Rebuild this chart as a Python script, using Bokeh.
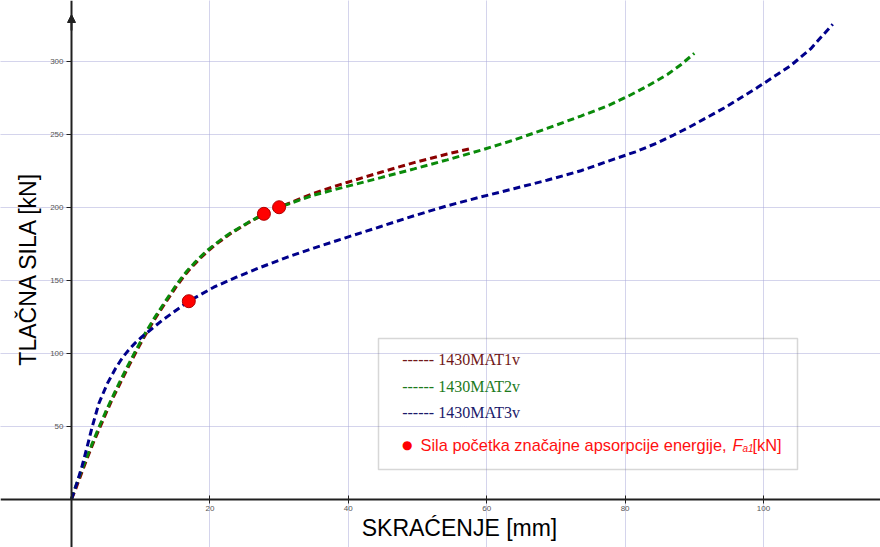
from math import pi
from bokeh.plotting import figure
from bokeh.models import Range1d, FixedTicker, Label, BoxAnnotation, Arrow, NormalHead
from bokeh.embed import file_html
from bokeh.resources import INLINE

# ---------------- data ----------------
mat1_x = [0, 0.45, 1.2, 2.15, 3.1, 4.1, 5.05, 6.0, 7.0, 8.2, 9.4, 10.85, 12.05,
          13.5, 15.2, 16.05, 16.9, 17.9, 18.8, 19.8, 20.7, 22.0, 23.1, 25.5, 27.9,
          30.0, 31.7, 35.0, 39.8, 44.7, 49.5, 54.3, 57.5]
mat1_y = [0, 5, 14.5, 26.5, 38, 49, 59.5, 69.5, 79, 90.5, 101.5, 114, 123.5,
          134, 146, 151.5, 156.5, 161.5, 166, 170.3, 174, 178.5, 182.3, 189.2, 195.5,
          200, 203.3, 209.6, 217, 224, 230.6, 236.5, 240]

mat2_x = [0, 0.33, 1.05, 2.02, 2.99, 3.95, 4.91, 5.88, 6.84, 8.05, 9.25, 10.69,
          11.9, 13.34, 15.03, 15.9, 16.72, 17.7, 18.64, 19.6, 20.56, 21.8, 22.98,
          25.4, 27.8, 30.0, 31.7, 35.0, 39.8, 44.7, 49.5, 54.3, 59.1, 63.9, 68.7,
          73.6, 77.4, 80.3, 83.2, 86.1, 88.0, 90.0]
mat2_y = [0, 5, 14.5, 26.5, 38, 49, 59.5, 69.5, 79, 90.5, 101.5, 114,
          123.5, 134, 146, 151.5, 156.5, 161.5, 166, 170.3, 174, 178.5, 182.3,
          189.2, 195.5, 200, 202.8, 208.3, 214.3, 220.3, 226.3, 232.5, 239, 246, 254,
          262.5, 269.3, 275.8, 283, 291, 297.5, 305.5]

mat3_x = [0, 0.82, 1.55, 2.27, 2.99, 3.95, 5.16, 6.36, 7.1, 7.8, 8.5, 9.25, 10.2,
          11.17, 13.1, 16.95, 20.56, 23.9, 27.3, 31.2, 35.0, 39.8, 44.7, 49.5, 54.3,
          59.1, 63.9, 68.7, 73.6, 78.4, 81.5, 84.6, 87.0, 89.5, 94.3, 99.1, 103.9,
          106.8, 110.0]
mat3_y = [0, 11.5, 23, 36, 49.5, 65.5, 79, 89.5, 95, 99.5, 103.5, 107.2, 111.3,
          115, 122.5, 135.6, 145.2, 152.2, 158.8, 165.8, 172, 179.4, 186.8, 194.2, 201,
          207, 212.7, 218.5, 225, 233, 238, 244, 249.5, 255.5, 268, 282, 297,
          308.5, 325.5]

fa1_x = [16.95, 27.8, 30.0]
fa1_y = [135.6, 195.5, 200.0]

x_ticks = [20, 40, 60, 80, 100]
y_ticks = [50, 100, 150, 200, 250, 300]

series_names = ["1430MAT1v", "1430MAT2v", "1430MAT3v"]
series_colors = ["#8b0000", "#0a8a0a", "#00008b"]
legend_text_colors = ["#701818", "#1c7a1c", "#1a1a6a"]
marker_label = "Sila početka značajne apsorpcije energije, "

# ---------------- figure ----------------
W, H = 880, 547
X0, X1 = -10.26, 116.9
Y0, Y1 = -33.2, 341.7


def dx(px):
    return X0 + px / W * (X1 - X0)


def dy(py):
    return Y1 - py / H * (Y1 - Y0)


p = figure(width=W, height=H, output_backend="svg", toolbar_location=None,
           x_range=Range1d(X0, X1), y_range=Range1d(Y0, Y1),
           min_border=0, outline_line_color=None)

p.xaxis.fixed_location = 0
p.yaxis.fixed_location = 0
p.xaxis.ticker = FixedTicker(ticks=x_ticks)
p.yaxis.ticker = FixedTicker(ticks=y_ticks)
for ax in (p.xaxis, p.yaxis):
    ax.minor_tick_line_color = None
    ax.major_label_text_font = "Liberation Sans"
    ax.major_label_text_font_size = "8px"
    ax.major_label_text_color = "#555555"
    ax.axis_line_color = "#202020"
    ax.axis_line_width = 2
    ax.major_tick_line_color = "#202020"
    ax.major_label_standoff = 3
p.xaxis.major_tick_in = 4
p.xaxis.major_tick_out = 4
p.yaxis.major_tick_in = 0
p.yaxis.major_tick_out = 5

for g in (p.xgrid, p.ygrid):
    g.grid_line_color = "#a8a8d8"
    g.grid_line_dash = "1 1"
    g.grid_line_width = 1

p.add_layout(Arrow(end=NormalHead(size=8, fill_color="#202020", line_color="#202020"),
                   x_start=0, y_start=dy(30), x_end=0, y_end=dy(14),
                   line_color="#202020", line_width=2))

xs = [mat1_x, mat2_x, mat3_x]
ys = [mat1_y, mat2_y, mat3_y]
for x, y, c in zip(xs, ys, series_colors):
    p.line(x, y, line_color=c, line_width=3, line_dash="7 4")

p.scatter(fa1_x, fa1_y, size=13, fill_color="#ff0000", line_color="#b00000", line_width=1)

# axis titles
p.add_layout(Label(x=dx(459), y=dy(527), text="SKRAĆENJE [mm]", text_align="center",
                   text_baseline="middle", text_font="Liberation Sans",
                   text_font_size="23px", text_color="#000000"))
p.add_layout(Label(x=dx(27), y=dy(268), text="TLAČNA SILA [kN]", angle=pi / 2,
                   text_align="center", text_baseline="middle", text_font="Liberation Sans",
                   text_font_size="23px", text_color="#000000"))

# legend box
p.add_layout(BoxAnnotation(left=dx(378), right=dx(797), top=dy(338), bottom=dy(469),
                           fill_alpha=0, line_color="#7a7a7a", line_width=1.5))
row_y = [359.3, 386.0, 411.7]
for name, col, ry in zip(series_names, legend_text_colors, row_y):
    p.add_layout(Label(x=dx(401.7), y=dy(ry), text="------ " + name,
                       text_align="left", text_baseline="middle",
                       text_font="Liberation Serif", text_font_size="16px",
                       text_color=col))
p.add_layout(Label(x=dx(406.7), y=dy(444.3), text="●", text_align="center",
                   text_baseline="middle", text_font="DejaVu Sans",
                   text_font_size="12px", text_color="#ff0000"))
p.add_layout(Label(x=dx(420), y=dy(444.3), text=marker_label, text_align="left",
                   text_baseline="middle", text_font="Liberation Sans",
                   text_font_size="16.4px", text_color="#ff1010"))
p.add_layout(Label(x=dx(732), y=dy(444.3), text="F", text_align="left",
                   text_baseline="middle", text_font="Liberation Sans",
                   text_font_style="italic", text_font_size="16.4px", text_color="#ff1010"))
p.add_layout(Label(x=dx(742), y=dy(447.5), text="a1", text_align="left",
                   text_baseline="middle", text_font="Liberation Sans",
                   text_font_style="italic", text_font_size="10px", text_color="#ff1010"))
p.add_layout(Label(x=dx(752), y=dy(444.3), text="[kN]", text_align="left",
                   text_baseline="middle", text_font="Liberation Sans",
                   text_font_size="16.4px", text_color="#ff1010"))

open("out.html", "w").write(file_html(p, INLINE))
